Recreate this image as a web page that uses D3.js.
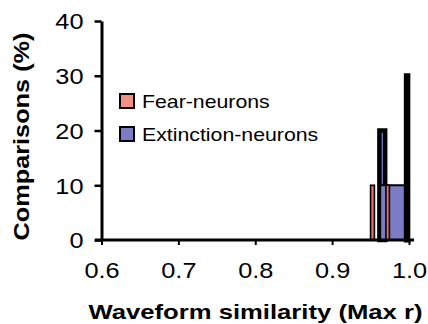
<!DOCTYPE html>
<html>
<head>
<meta charset="utf-8">
<script src="https://cdn.jsdelivr.net/npm/d3@7"></script>
<style>
  body { margin: 0; background: #fff; }
  text { font-family: Arial, "Liberation Sans", sans-serif; fill: #000; }
</style>
</head>
<body>
<script>
// histogram data (Comparisons %, bins of waveform similarity)
var seriesNames = ["Fear-neurons", "Extinction-neurons"];
var fearBins = [[0.950, 0.955], [0.970, 0.9745]];
var fearVals = [10, 10];
var extBins = [[0.9615, 0.969], [0.9625, 0.9965], [0.9965, 0.9985]];
var extVals = [20, 10, 30];
var xTicks = [0.6, 0.7, 0.8, 0.9, 1.0];
var yTicks = [0, 10, 20, 30, 40];

var colors = { fear: "#ea6f66", fearKey: "#f29088", ext: "#7a7cc6" };
var extStroke = [4.5, 2, 5];
var fearStroke = 1.6;

var svg = d3.select("body").append("svg")
    .attr("width", 428)
    .attr("height", 324);

var x = d3.scaleLinear().domain([0.6, 1.0]).range([101.5, 409]);
var y = d3.scaleLinear().domain([0, 40]).range([240, 21]);

// stretch text a bit, the original font is wider
function stretch(sel, k) {
    sel.each(function() {
        var w = this.getComputedTextLength();
        d3.select(this).attr("textLength", w * k).attr("lengthAdjust", "spacingAndGlyphs");
    });
}

function drawBar(g, bin, val, fill, sw) {
    g.append("rect")
        .attr("x", x(bin[0]))
        .attr("width", x(bin[1]) - x(bin[0]))
        .attr("y", y(val))
        .attr("height", y(0) - y(val))
        .attr("fill", fill)
        .attr("stroke", "#000")
        .attr("stroke-width", sw);
}

var bars = svg.append("g");
drawBar(bars, extBins[0], extVals[0], colors.ext, extStroke[0]);
drawBar(bars, extBins[1], extVals[1], colors.ext, extStroke[1]);
for (var i = 0; i < fearBins.length; i++) {
    drawBar(bars, fearBins[i], fearVals[i], colors.fear, fearStroke);
}
drawBar(bars, extBins[2], extVals[2], colors.ext, extStroke[2]);

// y axis
var yAxis = svg.append("g")
    .attr("transform", "translate(101.5,0)")
    .call(d3.axisLeft(y).tickValues(yTicks).tickSize(7).tickSizeOuter(0).tickPadding(11).tickFormat(d3.format("d")));
yAxis.select(".domain").attr("stroke-width", 3);
yAxis.selectAll(".tick line").attr("stroke-width", 2.5);
yAxis.selectAll(".tick text").attr("font-size", 22).attr("dy", "0.36em");
stretch(yAxis.selectAll(".tick text"), 1.15);

// x axis
var xAxis = svg.append("g")
    .attr("transform", "translate(0,240)")
    .call(d3.axisBottom(x).tickValues(xTicks).tickSize(5).tickSizeOuter(0).tickFormat(d3.format(".1f")));
xAxis.select(".domain").remove();
xAxis.append("line")
    .attr("x1", 95).attr("x2", 414)
    .attr("stroke", "#000").attr("stroke-width", 3);
xAxis.selectAll(".tick line").attr("stroke-width", 2);
xAxis.selectAll(".tick text").attr("font-size", 22).attr("dy", null).attr("y", 37.7);
stretch(xAxis.selectAll(".tick text"), 1.15);

// axis titles
svg.append("text")
    .attr("transform", "translate(29,136.5) rotate(-90)")
    .attr("text-anchor", "middle")
    .attr("font-size", 22)
    .attr("font-weight", "bold")
    .attr("textLength", 208)
    .attr("lengthAdjust", "spacingAndGlyphs")
    .text("Comparisons (%)");

svg.append("text")
    .attr("x", 255.5)
    .attr("y", 318.5)
    .attr("text-anchor", "middle")
    .attr("font-size", 21)
    .attr("font-weight", "bold")
    .attr("textLength", 334)
    .attr("lengthAdjust", "spacingAndGlyphs")
    .text("Waveform similarity (Max r)");

// legend
var legend = svg.append("g");
var keyFills = [colors.fearKey, colors.ext];
seriesNames.forEach(function(name, i) {
    var cy = 101 + i * 33;
    legend.append("rect")
        .attr("x", 120).attr("y", cy - 7)
        .attr("width", 14).attr("height", 14)
        .attr("fill", keyFills[i])
        .attr("stroke", "#000").attr("stroke-width", 2);
    var t = legend.append("text")
        .attr("x", 142).attr("y", cy + 7)
        .attr("font-size", 19)
        .text(name);
    stretch(t, 1.12);
});
</script>
</body>
</html>
